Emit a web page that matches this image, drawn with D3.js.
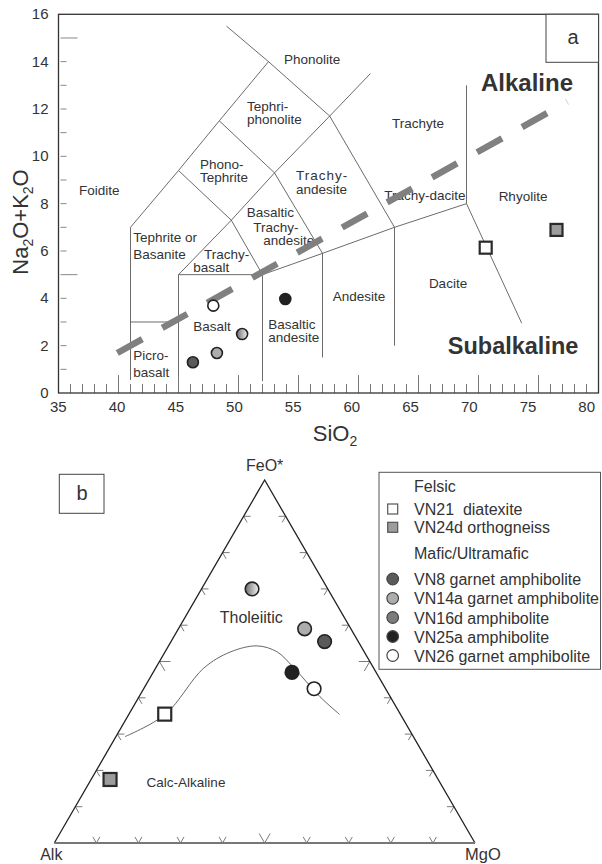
<!DOCTYPE html>
<html><head><meta charset="utf-8">
<script src="https://cdn.jsdelivr.net/npm/d3@7/dist/d3.min.js"></script>
<style>
body{margin:0;background:#fff}
text{font-family:"Liberation Sans",Arial,Helvetica,sans-serif;fill:#333}
</style>
</head><body>
<svg id="chart" width="602" height="864"></svg>
<script>
// ---------------- DATA ----------------
const sampleIds   = ["VN21","VN24d","VN8","VN14a","VN16d","VN25a","VN26"];
const sampleNames = ["VN21  diatexite","VN24d orthogneiss","VN8 garnet amphibolite","VN14a garnet amphibolite","VN16d amphibolite","VN25a amphibolite","VN26 garnet amphibolite"];
const sampleShape = ["square","square","circle","circle","circle","circle","circle"];
const sampleFill  = ["#ffffff","#9c9c9c","#5a5a5a","#adadad","#7c7c7c","#222222","#ffffff"];
const legendGroups = ["Felsic","Mafic/Ultramafic"];

// TAS diagram values (SiO2 vs Na2O+K2O)
const sio2        = [70.6, 76.5, 46.2, 48.2, 50.3, 53.9, 47.9];
const totalAlkali = [6.14, 6.89, 1.30, 1.69, 2.49, 3.97, 3.69];

// AFM ternary values (Alk, FeO*, MgO, %)
const afmA = [56, 78, 8, 11, 18, 20, 17];
const afmF = [35.5, 17.5, 55.5, 59, 70, 47, 42.5];
const afmM = [8.5, 4.5, 36.5, 30, 12, 33, 40.5];

// Tholeiitic / calc-alkaline divide (Alk, FeO*, MgO fractions)
const divideA = [0.685, 0.559, 0.405, 0.319, 0.247, 0.2075, 0.19, 0.167, 0.145];
const divideF = [0.293, 0.3545, 0.481, 0.526, 0.543, 0.527, 0.485, 0.403, 0.3545];
const divideM = [0.0216, 0.0867, 0.114, 0.155, 0.21, 0.2655, 0.325, 0.430, 0.5006];

// axis ticks
const xTickLabels = [35,40,45,50,55,60,65,70,75,80];
const yTickLabels = [0,2,4,6,8,10,12,14,16];

// TAS field boundaries (SiO2, Na2O+K2O)
const tasBoundaries = [
  [[41,0.55],[41,7],[45,9.4],[48.4,11.5],[52.5,14]],
  [[49,15.5],[52.5,14],[57.6,11.7],[63,7],[63,2]],
  [[41,3],[45,3]],
  [[45,0.5],[45,5],[49.4,7.3],[53,9.3],[57.6,11.7],[61,13.5]],
  [[45,9.4],[49.4,7.3],[52,5],[52,0.5]],
  [[48.4,11.5],[53,9.3],[57,5.9],[57,1.5]],
  [[45,5],[52,5],[57,5.9],[63,7],[69,8],[69,13]],
  [[69,8],[73.6,2.95]]
];
// alkaline / subalkaline divide
const alkDivide = [[39.9,1.69],[77.4,12.3]];

// TAS field names: [lines, SiO2, Na2O+K2O (first baseline), anchor, line gap px]
const tasLabels = [
  [["Phonolite"],56.13,13.91,"middle",0],
  [["Tephri-","phonolite"],50.71,11.91,"start",13.3],
  [["Phono-","Tephrite"],46.79,9.48,"start",13.3],
  [["Foidite"],36.71,8.36,"start",0],
  [["Trachyte"],64.96,11.21,"middle",0],
  [["Trachy-","andesite"],54.79,8.99,"start",13.3],
  [["Trachy-dacite"],65.54,8.15,"middle",0],
  [["Rhyolite"],73.71,8.12,"middle",0],
  [["Basaltic"],50.68,7.44,"start",0],
  [["Trachy-"],51.23,6.81,"start",0],
  [["andesite"],52.07,6.25,"start",0],
  [["Tephrite or","Basanite"],41.23,6.39,"start",17.3],
  [["Trachy-"],47.13,5.68,"start",0],
  [["basalt"],46.23,5.12,"start",0],
  [["Basalt"],46.23,2.63,"start",0],
  [["Picro-","basalt"],41.23,1.39,"start",16.7],
  [["Basaltic","andesite"],52.48,2.70,"start",13.3],
  [["Andesite"],60.04,3.90,"middle",0],
  [["Dacite"],67.46,4.42,"middle",0]
];

// ---------------- DRAW ----------------
const svg = d3.select("#chart");
const defs = svg.append("defs");
const grad = defs.append("linearGradient").attr("id","g16").attr("x1","0").attr("x2","1").attr("y1","0").attr("y2","0");
grad.append("stop").attr("offset","0").attr("stop-color","#6e6e6e");
grad.append("stop").attr("offset","1").attr("stop-color","#f2f2f2");
function fillOf(i, inLegend){ return (sampleIds[i]==="VN16d" && !inLegend) ? "url(#g16)" : sampleFill[i]; }

// ===== Panel a: TAS =====
const x = d3.scaleLinear().domain([35,80]).range([58.5,598.5]);
const xLab = d3.scaleLinear().domain([35,80]).range([58.3,586.7]);
const y = d3.scaleLinear().domain([0,16]).range([393,14.3]);
const gA = svg.append("g");

// field boundaries
const line = d3.line().x(d=>x(d[0])).y(d=>y(d[1]));
gA.selectAll("path.bd").data(tasBoundaries).join("path").attr("class","bd")
  .attr("d",line).attr("fill","none").attr("stroke","#5a5a5a").attr("stroke-width",0.9);

// bottom axis: inward ticks
const minorX = d3.range(36,80);
gA.selectAll("line.xt").data(minorX).join("line").attr("class","xt")
  .attr("x1",d=>x(d)).attr("x2",d=>x(d))
  .attr("y1",y(0)).attr("y2",d=> y(0) - (d%5===0?18:9))
  .attr("stroke","#777").attr("stroke-width",1);
// left axis: inward ticks
const minorY = d3.range(1,16);
gA.selectAll("line.yt").data(minorY).join("line").attr("class","yt")
  .attr("y1",d=>y(d)).attr("y2",d=>y(d))
  .attr("x1",x(35)+2).attr("x2",d=> x(35) + ((d===5||d===15)?19:8))
  .attr("stroke","#888").attr("stroke-width",1);

// frame
gA.append("rect").attr("x",x(35)).attr("y",y(16)).attr("width",x(80)-x(35)).attr("height",y(0)-y(16))
  .attr("fill","none").attr("stroke","#333").attr("stroke-width",1.3);

// tick labels
gA.selectAll("text.xl").data(xTickLabels).join("text").attr("class","xl")
  .attr("x",d=>xLab(d)).attr("y",y(0)+19).attr("text-anchor","middle").attr("font-size",15).text(d=>d);
gA.selectAll("text.yl").data(yTickLabels).join("text").attr("class","yl")
  .attr("x",x(35)-10).attr("y",d=>y(d)+5).attr("text-anchor","end").attr("font-size",15).text(d=>d);

// axis titles
const xt = gA.append("text").attr("x",335).attr("y",441).attr("text-anchor","middle").attr("font-size",22);
xt.append("tspan").text("SiO");
xt.append("tspan").attr("font-size",14).attr("dy",5).text("2");
const yt = gA.append("text").attr("transform","translate(28,222) rotate(-90)").attr("text-anchor","middle").attr("font-size",22);
yt.append("tspan").text("Na");
yt.append("tspan").attr("font-size",14).attr("dy",5).text("2");
yt.append("tspan").attr("dy",-5).text("O+K");
yt.append("tspan").attr("font-size",14).attr("dy",5).text("2");
yt.append("tspan").attr("dy",-5).text("O");

// field labels
tasLabels.forEach(l=>{
  const t = gA.append("text").attr("font-size",13.5).attr("text-anchor",l[3]);
  l[0].forEach((s,k)=>{
    t.append("tspan").attr("x",x(l[1])).attr("y",y(l[2])+k*l[4])
      .attr("letter-spacing", s==="Trachy-" && l[1]>54 ? 1 : 0).text(s);
  });
});

// alkaline divide
gA.append("path").attr("d",line(alkDivide)).attr("fill","none")
  .attr("stroke","#808080").attr("stroke-width",6.5).attr("stroke-dasharray","28.6,22.9");

gA.append("text").attr("x",x(74.04)).attr("y",y(12.76)).attr("text-anchor","middle")
  .attr("font-size",24).attr("font-weight","bold").text("Alkaline");
gA.append("text").attr("x",x(72.88)).attr("y",y(1.65)).attr("text-anchor","middle")
  .attr("font-size",23.5).attr("font-weight","bold").text("Subalkaline");

// panel letter a
gA.append("rect").attr("x",546).attr("y",y(16)).attr("width",x(80)-546).attr("height",48)
  .attr("fill","#fff").attr("stroke","#444").attr("stroke-width",1);
gA.append("text").attr("x",573).attr("y",44).attr("text-anchor","middle").attr("font-size",20).text("a");

// data points
function drawMarker(g, i, cx, cy, s, inLegend, sw){
  if (sampleShape[i]==="square"){
    g.append("rect").attr("x",cx-s).attr("y",cy-s).attr("width",2*s).attr("height",2*s)
      .attr("fill",fillOf(i,inLegend)).attr("stroke",inLegend?"#555":"#2a2a2a").attr("stroke-width",sw);
  } else {
    g.append("circle").attr("cx",cx).attr("cy",cy).attr("r",s)
      .attr("fill",fillOf(i,inLegend)).attr("stroke",inLegend?"#444":"#222").attr("stroke-width",sw);
  }
}
sampleIds.forEach((id,i)=> drawMarker(gA,i,x(sio2[i]),y(totalAlkali[i]), sampleShape[i]==="square"?6:5.5, false, sampleShape[i]==="square"?2.2:1.6));

// ===== Panel b: AFM ternary =====
const tx = d3.scaleLinear().domain([0,1]).range([54.3,475]);
const ty = d3.scaleLinear().domain([0,1]).range([843,480]);
const proj = (a,f,m)=>{ const s=a+f+m; f/=s; m/=s; return [tx(m+f/2), ty(f)]; };
const gB = svg.append("g");
const vA = proj(1,0,0), vF = proj(0,1,0), vM = proj(0,0,1);

// ticks
function unit(p,q){ const dx=q[0]-p[0], dy=q[1]-p[1], L=Math.hypot(dx,dy); return [dx/L,dy/L]; }
const edges = [
  {from:vA,to:vF,d1:unit(vA,vM),d2:unit(vF,vM)},
  {from:vF,to:vM,d1:unit(vM,vA),d2:unit(vF,vA)},
  {from:vA,to:vM,d1:unit(vA,vF),d2:unit(vM,vF)}
];
const tickSteps = d3.range(1,10);
edges.forEach(e=>{
  tickSteps.forEach(k=>{
    const t=k/10, px=e.from[0]+(e.to[0]-e.from[0])*t, py=e.from[1]+(e.to[1]-e.from[1])*t;
    const L = k===5?11:7;
    gB.append("path").attr("d",`M${px+e.d1[0]*L},${py+e.d1[1]*L}L${px},${py}L${px+e.d2[0]*L},${py+e.d2[1]*L}`)
      .attr("fill","none").attr("stroke","#7a7a7a").attr("stroke-width",1);
  });
});

// triangle
gB.append("path").attr("d",`M${vA[0]},${vA[1]}L${vF[0]},${vF[1]}L${vM[0]},${vM[1]}`)
  .attr("fill","none").attr("stroke","#222").attr("stroke-width",1.3);
gB.append("line").attr("x1",vA[0]).attr("y1",vA[1]).attr("x2",vM[0]).attr("y2",vM[1])
  .attr("stroke","#777").attr("stroke-width",2);

// divide curve
const divPts = divideA.map((a,i)=>proj(a,divideF[i],divideM[i]));
gB.append("path").attr("d",d3.line().curve(d3.curveCatmullRom)(divPts))
  .attr("fill","none").attr("stroke","#555").attr("stroke-width",0.9);

// apex labels
gB.append("text").attr("x",vF[0]).attr("y",vF[1]-9).attr("text-anchor","middle").attr("font-size",16).text("FeO*");
gB.append("text").attr("x",vA[0]-3).attr("y",vA[1]+17).attr("text-anchor","middle").attr("font-size",16).text("Alk");
gB.append("text").attr("x",vM[0]+8).attr("y",vM[1]+17).attr("text-anchor","middle").attr("font-size",16.5).text("MgO");

gB.append("text").attr("x",251.3).attr("y",623.3).attr("text-anchor","middle").attr("font-size",16).text("Tholeiitic");
gB.append("text").attr("x",186).attr("y",786.5).attr("text-anchor","middle").attr("font-size",13.5).text("Calc-Alkaline");

// panel letter b
gB.append("rect").attr("x",59.3).attr("y",474.3).attr("width",44.7).attr("height",39)
  .attr("fill","none").attr("stroke","#444").attr("stroke-width",1);
gB.append("text").attr("x",82).attr("y",500).attr("text-anchor","middle").attr("font-size",20).text("b");

// points
sampleIds.forEach((id,i)=>{
  const p = proj(afmA[i],afmF[i],afmM[i]);
  drawMarker(gB,i,p[0],p[1], sampleShape[i]==="square"?6.5:6.8, false, sampleShape[i]==="square"?2.2:1.6);
});

// legend
const gL = svg.append("g");
gL.append("rect").attr("x",379).attr("y",472.3).attr("width",221.5).attr("height",197)
  .attr("fill","#fff").attr("stroke","#555").attr("stroke-width",1);
const legBase = [515, 533.3, 585, 604.3, 623.5, 642.5, 661.5];
const grpBase = [492.3, 559.3];
legendGroups.forEach((g,k)=> gL.append("text").attr("x",414).attr("y",grpBase[k]).attr("font-size",16).text(g));
sampleIds.forEach((id,i)=>{
  drawMarker(gL,i,392.7,legBase[i]-6, sampleShape[i]==="square"?5:5.8, true, 1.2);
  gL.append("text").attr("x",414).attr("y",legBase[i]).attr("font-size",16)
    .style("white-space","pre").text(sampleNames[i]);
});
</script>
</body></html>
